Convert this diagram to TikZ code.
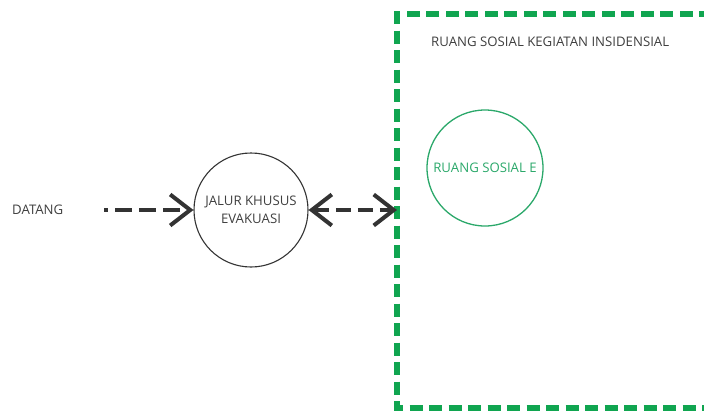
\documentclass[tikz,border=0pt]{standalone}
\usepackage{fontspec}
\setmainfont{Open Sans}
\usetikzlibrary{arrows.meta}
\definecolor{zonegreen}{HTML}{10A550}
\definecolor{roomgreen}{HTML}{2BA86A}
\definecolor{inktext}{HTML}{3F3F3F}
\begin{document}
\begin{tikzpicture}[x=1pt,y=-1pt,
  lbl/.style={font=\fontsize{13.2}{15}\selectfont, text=inktext, inner sep=0pt},
  hub/.style={circle, draw=black!80, line width=1.1pt, minimum size=114pt, inner sep=0pt,
              align=center, font=\fontsize{13.2}{17.5}\selectfont, text=inktext},
  room/.style={circle, draw=roomgreen, line width=1.3pt, minimum size=116pt, inner sep=0pt,
               font=\fontsize{13.2}{15}\selectfont, text=roomgreen},
  barb/.tip={Straight Barb[length=20pt,width=31pt,line width=4pt]},
  flow/.style={line width=4pt, draw=black!80, dash pattern=on 17pt off 7pt},
  zone/.style={line width=6pt, draw=zonegreen, dash pattern=on 13pt off 6.5pt}]
\useasboundingbox (0,0) rectangle (704,413);

% area boundary (open to the right)
\draw[zone] (712,14) -- (397,14) -- (397,408) -- (712,408);
\node[lbl, anchor=west] (zonelabel) at (431,42) {RUANG SOSIAL KEGIATAN INSIDENSIAL};

% nodes
\node[lbl, anchor=west] (datang) at (12,210) {DATANG};
\coordinate (start) at (104,210);
\node[hub] (jalur) at (251,210) {JALUR KHUSUS\\EVAKUASI};
\node[room] (roomE) at (485,168) {RUANG SOSIAL E};
\coordinate (gate) at (397,210);

% connectors
\draw[flow, -barb, dash phase=13pt] (start) -- (jalur.west);
\draw[flow, barb-barb, dash pattern=on 15pt off 7pt] (jalur.east) -- (gate);
\end{tikzpicture}
\end{document}
